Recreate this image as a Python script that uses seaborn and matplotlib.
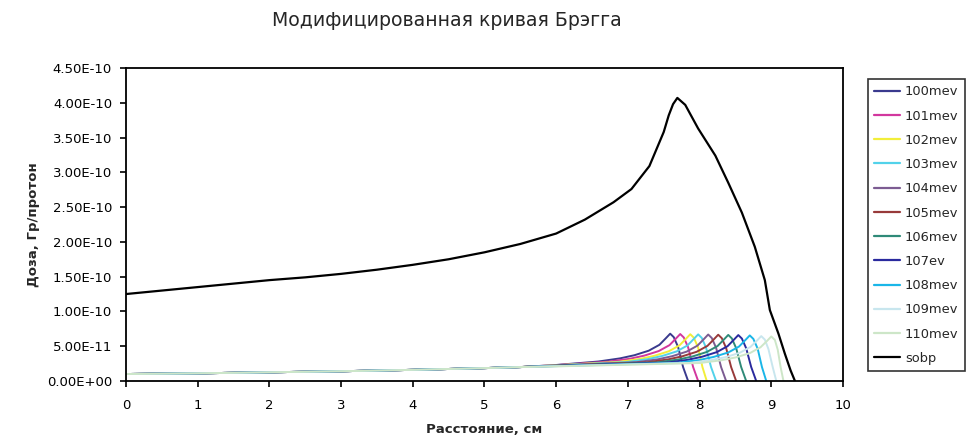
import pandas as pd
import matplotlib
matplotlib.use("Agg")
import matplotlib.pyplot as plt
import seaborn as sns

# sobp curve, y in units of 1e-10
sobp_x = [0, 0.5, 1, 1.5, 2, 2.5, 3, 3.5, 4, 4.5, 5, 5.5, 6, 6.4, 6.8, 7.05, 7.3,
          7.5, 7.57, 7.63, 7.69, 7.8, 7.98, 8.22, 8.4, 8.59, 8.77, 8.91, 8.98,
          9.1, 9.19, 9.27, 9.33]
sobp_y = [1.25, 1.30, 1.35, 1.40, 1.45, 1.49, 1.54, 1.60, 1.67, 1.75, 1.85, 1.97,
          2.12, 2.32, 2.57, 2.76, 3.09, 3.58, 3.82, 3.98, 4.07, 3.97, 3.63, 3.24,
          2.85, 2.42, 1.93, 1.45, 1.02, 0.68, 0.39, 0.15, 0.0]

# common entrance region of the single Bragg curves, y in units of 1e-11
entrance_x = [0, 1, 2, 3, 4, 5, 5.5]
entrance_y = [1.0, 1.1, 1.25, 1.4, 1.6, 1.85, 2.0]

# tails of each curve (depth, dose in 1e-11)
x100 = [6.0, 6.59, 6.89, 7.09, 7.29, 7.44, 7.53, 7.59, 7.64, 7.70, 7.77, 7.84]
y100 = [2.30, 2.80, 3.25, 3.70, 4.35, 5.20, 6.15, 6.80, 6.30, 4.90, 2.00, 0.0]
x101 = [6.0, 6.73, 7.03, 7.23, 7.43, 7.58, 7.67, 7.73, 7.78, 7.84, 7.91, 7.98]
y101 = [2.28, 2.78, 3.20, 3.65, 4.30, 5.15, 6.10, 6.75, 6.25, 4.85, 2.00, 0.0]
x102 = [6.0, 6.87, 7.17, 7.37, 7.57, 7.72, 7.81, 7.87, 7.92, 7.98, 8.04, 8.10]
y102 = [2.26, 2.75, 3.17, 3.62, 4.27, 5.12, 6.07, 6.72, 6.22, 4.80, 2.00, 0.0]
x103 = [6.0, 6.98, 7.28, 7.48, 7.68, 7.83, 7.92, 7.98, 8.03, 8.09, 8.16, 8.23]
y103 = [2.24, 2.72, 3.15, 3.60, 4.25, 5.10, 6.05, 6.70, 6.20, 4.80, 2.00, 0.0]
x104 = [6.0, 7.12, 7.42, 7.62, 7.82, 7.97, 8.06, 8.12, 8.17, 8.23, 8.30, 8.37]
y104 = [2.22, 2.70, 3.12, 3.57, 4.22, 5.08, 6.02, 6.68, 6.18, 4.78, 2.00, 0.0]
x105 = [6.0, 7.26, 7.56, 7.76, 7.96, 8.11, 8.20, 8.26, 8.31, 8.37, 8.44, 8.51]
y105 = [2.20, 2.68, 3.10, 3.55, 4.20, 5.05, 6.00, 6.65, 6.15, 4.75, 2.00, 0.0]
x106 = [6.0, 7.40, 7.70, 7.90, 8.10, 8.25, 8.34, 8.40, 8.45, 8.51, 8.58, 8.65]
y106 = [2.18, 2.66, 3.08, 3.52, 4.17, 5.02, 5.97, 6.62, 6.12, 4.72, 2.00, 0.0]
x107 = [6.0, 7.54, 7.84, 8.04, 8.24, 8.39, 8.48, 8.54, 8.59, 8.65, 8.72, 8.79]
y107 = [2.16, 2.64, 3.05, 3.50, 4.15, 5.00, 5.95, 6.60, 6.10, 4.70, 2.00, 0.0]
x108 = [6.0, 7.70, 8.00, 8.20, 8.40, 8.55, 8.64, 8.70, 8.75, 8.81, 8.87, 8.93]
y108 = [2.14, 2.62, 3.02, 3.47, 4.10, 4.95, 5.90, 6.55, 6.05, 4.65, 2.00, 0.0]
x109 = [6.0, 7.86, 8.16, 8.36, 8.56, 8.71, 8.80, 8.86, 8.91, 8.96, 9.02, 9.07]
y109 = [2.12, 2.60, 3.00, 3.42, 4.05, 4.90, 5.80, 6.45, 5.95, 4.60, 2.00, 0.0]
x110 = [6.0, 8.00, 8.30, 8.50, 8.70, 8.85, 8.94, 9.00, 9.05, 9.09, 9.13, 9.17]
y110 = [2.10, 2.58, 2.97, 3.38, 4.00, 4.85, 5.75, 6.40, 5.90, 4.50, 2.00, 0.0]

labels = ["100mev", "101mev", "102mev", "103mev", "104mev", "105mev",
          "106mev", "107ev", "108mev", "109mev", "110mev"]
tails_x = [x100, x101, x102, x103, x104, x105, x106, x107, x108, x109, x110]
tails_y = [y100, y101, y102, y103, y104, y105, y106, y107, y108, y109, y110]
colors = ["#3a3a8e", "#d2379e", "#f2ee3a", "#52d2ea", "#7c5c92", "#983a3a",
          "#2f8a78", "#2a2a9e", "#1ab6e8", "#c8e6ee", "#cde6c8"]

rows = []
for lab, tx, ty in zip(labels, tails_x, tails_y):
    for xv, yv in zip(entrance_x + tx, entrance_y + ty):
        rows.append((lab, xv, yv * 1e-11))
df = pd.DataFrame(rows, columns=["energy", "depth", "dose"])
sobp_df = pd.DataFrame({"depth": sobp_x, "dose": [v * 1e-10 for v in sobp_y]})

sns.set_style("ticks")
plt.rcParams["font.family"] = ["DejaVu Sans"]

fig = plt.figure(figsize=(9.75, 4.43), dpi=100)
ax = fig.add_axes([0.1292, 0.140, 0.7354, 0.7065])

sns.lineplot(data=df, x="depth", y="dose", hue="energy", hue_order=labels,
             palette=colors, estimator=None, sort=False, linewidth=1.4,
             ax=ax, legend=False)
sns.lineplot(data=sobp_df, x="depth", y="dose", color="black",
             estimator=None, sort=False, linewidth=1.6, ax=ax)

ax.set_xlim(0, 10)
ax.set_ylim(0, 4.5e-10)
ax.set_xticks(range(0, 11))
ax.set_yticks([i * 0.5e-10 for i in range(10)])
ax.set_yticklabels(["{:.2E}".format(i * 0.5e-10) for i in range(10)])
ax.tick_params(axis="both", direction="out", length=4, width=1.2,
               labelsize=9.5, colors="black")
ax.tick_params(axis="x", pad=9)
ax.tick_params(axis="y", pad=6)
for s in ax.spines.values():
    s.set_visible(True)
    s.set_linewidth(1.3)
    s.set_color("black")

ax.set_xlabel("Расстояние, см", fontsize=9.5, fontweight="bold", labelpad=8)
ax.set_ylabel("Доза, Гр/протон", fontsize=9.5, fontweight="bold", labelpad=5)
fig.text(447 / 975, 1 - 20 / 443, "Модифицированная кривая Брэгга",
         ha="center", va="center", fontsize=13.6)

handles = [plt.Line2D([], [], color=c, lw=1.6) for c in colors]
handles.append(plt.Line2D([], [], color="black", lw=1.6))
leg = fig.legend(handles, labels + ["sobp"], loc="upper left",
                 bbox_to_anchor=(0.890, 0.822), fontsize=9.4, frameon=True,
                 fancybox=False, edgecolor="black", labelspacing=0.86,
                 handlelength=2.0, handletextpad=0.35, borderpad=0.5,
                 borderaxespad=0)
leg.get_frame().set_linewidth(1.2)

fig.savefig("out.png", dpi=100)
